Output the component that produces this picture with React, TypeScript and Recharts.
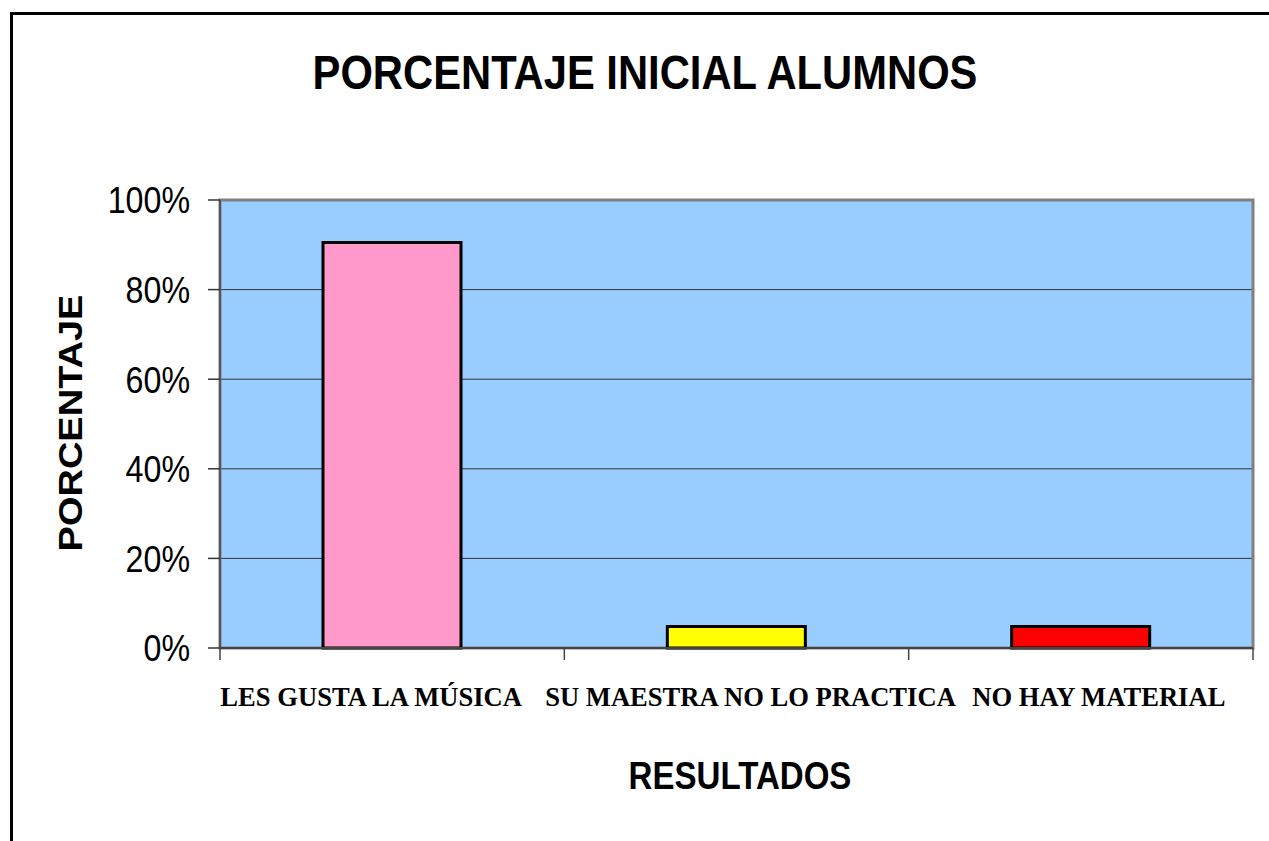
import { BarChart, Bar, XAxis, YAxis, CartesianGrid, Cell, ReferenceArea } from "recharts";

const categories = ["LES GUSTA LA MÚSICA", "SU MAESTRA NO LO PRACTICA", "NO HAY MATERIAL"];
const percentages = [90.5, 4.8, 4.8];
const barColors = ["#FF99CC", "#FFFF00", "#FF0000"];
const yTicks = [0, 20, 40, 60, 80, 100];
const boundaryTicks = [0, 1, 2, 3];

// excel pushed the long labels sideways so they don't collide
const labelShift = [-21, 14, 18];

const data = categories.map((name, i) => ({ name, value: percentages[i] }));

const SANS = "'Liberation Sans', Arial, sans-serif";
const SERIF = "'Liberation Serif', 'Times New Roman', serif";

function YTick({ x, y, payload }: any) {
  return (
    <text
      transform={`translate(${x},${y}) scale(0.87,1)`}
      textAnchor="end"
      dy="0.36em"
      fontSize={37}
      fontFamily={SANS}
      fill="#000"
    >
      {payload.value}%
    </text>
  );
}

function XTick({ x, y, payload, index }: any) {
  return (
    <text
      transform={`translate(${x + (labelShift[index] ?? 0)},${y + 57}) scale(0.95,1)`}
      textAnchor="middle"
      fontSize={28}
      fontWeight="bold"
      fontFamily={SERIF}
      fill="#000"
    >
      {payload.value}
    </text>
  );
}

export default function App() {
  return (
    <div style={{ position: "fixed", left: 0, top: 0, width: 1269, height: 841, overflow: "hidden", background: "#fff" }}>
      <div
        style={{
          position: "absolute",
          left: 10,
          top: 12,
          width: 1300,
          height: 900,
          border: "3px solid #000",
          boxSizing: "border-box",
        }}
      />
      <div
        style={{
          position: "absolute",
          left: 645,
          top: 48,
          fontFamily: SANS,
          fontWeight: "bold",
          fontSize: 49,
          lineHeight: 1,
          whiteSpace: "nowrap",
          transform: "translateX(-50%) scaleX(0.852)",
        }}
      >
        PORCENTAJE INICIAL ALUMNOS
      </div>
      <div
        style={{
          position: "absolute",
          left: 71,
          top: 423,
          fontFamily: SANS,
          fontWeight: "bold",
          fontSize: 38,
          lineHeight: 1,
          whiteSpace: "nowrap",
          transform: "translate(-50%,-50%) rotate(-90deg) scaleY(0.87)",
        }}
      >
        PORCENTAJE
      </div>
      <div
        style={{
          position: "absolute",
          left: 740,
          top: 757,
          fontFamily: SANS,
          fontWeight: "bold",
          fontSize: 38,
          lineHeight: 1,
          whiteSpace: "nowrap",
          transform: "translateX(-50%) scaleX(0.87)",
        }}
      >
        RESULTADOS
      </div>
      <div style={{ position: "absolute", left: 0, top: 0 }}>
        <BarChart width={1269} height={841} data={data} margin={{ top: 200, right: 16, bottom: 132, left: 0 }}>
          <CartesianGrid vertical={false} stroke="#333" fill="#99CCFF" fillOpacity={1} />
          {/* numeric helper axis: only draws the tick marks between categories */}
          <XAxis
            xAxisId={0}
            type="number"
            dataKey="value"
            domain={[0, 3]}
            allowDataOverflow
            ticks={boundaryTicks}
            interval={0}
            height={1}
            tickFormatter={() => ""}
            tickSize={12}
            axisLine={{ stroke: "#444", strokeWidth: 2 }}
            tickLine={{ stroke: "#444", strokeWidth: 1.5 }}
          />
          <XAxis
            xAxisId="cat"
            dataKey="name"
            height={60}
            interval={0}
            axisLine={false}
            tickLine={false}
            tickSize={0}
            tickMargin={0}
            tick={<XTick />}
          />
          <YAxis
            width={220}
            domain={[0, 100]}
            ticks={yTicks}
            interval={0}
            tickSize={12}
            tickMargin={18}
            tick={<YTick />}
            axisLine={{ stroke: "#555", strokeWidth: 2 }}
            tickLine={{ stroke: "#333", strokeWidth: 1.5 }}
          />
          <ReferenceArea y1={0} y2={100} fill="none" stroke="#808080" strokeWidth={3} />
          <Bar dataKey="value" xAxisId="cat" barSize={138} stroke="#000" strokeWidth={3} isAnimationActive={false}>
            {data.map((d, i) => (
              <Cell key={d.name} fill={barColors[i]} />
            ))}
          </Bar>
        </BarChart>
      </div>
    </div>
  );
}
